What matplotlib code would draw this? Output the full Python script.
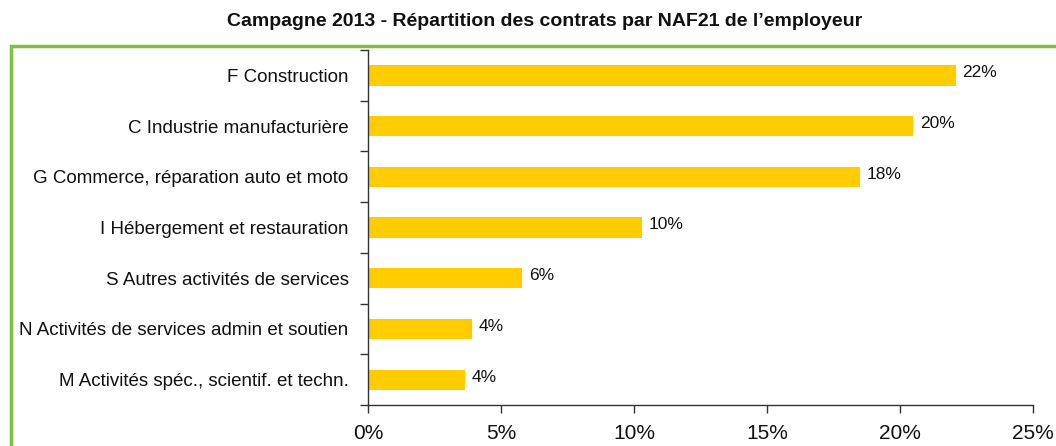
import matplotlib
matplotlib.use("Agg")
import matplotlib.pyplot as plt
from matplotlib.patches import Rectangle
import numpy as np

categories = [
    "F Construction",
    "C Industrie manufacturière",
    "G Commerce, réparation auto et moto",
    "I Hébergement et restauration",
    "S Autres activités de services",
    "N Activités de services admin et soutien",
    "M Activités spéc., scientif. et techn.",
]
values = [22.1, 20.5, 18.5, 10.3, 5.8, 3.9, 3.65]
value_labels = ["22%", "20%", "18%", "10%", "6%", "4%", "4%"]
xticks = [0, 5, 10, 15, 20, 25]
xtick_labels = ["0%", "5%", "10%", "15%", "20%", "25%"]
title = "Campagne 2013 - Répartition des contrats par NAF21 de l\u2019employeur"

W, H = 1056, 446
fig = plt.figure(figsize=(W / 100, H / 100), dpi=100)
plt.rcParams['font.family'] = ['Liberation Sans', 'DejaVu Sans']

# axes in pixel coords
left, right, top, bottom = 368, 1033, 50, 405
ax = fig.add_axes([left / W, 1 - bottom / H, (right - left) / W, (bottom - top) / H])

n = len(categories)
ypos = np.arange(n)
ax.barh(ypos, values, height=0.4, color="#FFCC00", zorder=2)
ax.set_ylim(n - 0.5, -0.5)
ax.set_xlim(0, 25)

for y, v, lab in zip(ypos, values, value_labels):
    ax.text(v + 0.25, y - 0.05, lab, va="center", ha="left", fontsize=12.5, color="#111111")

ax.set_yticks(ypos)
ax.set_yticklabels(categories, fontsize=13.5, color="#111111")
ax.set_yticks(np.arange(-0.5, n, 1), minor=True)
ax.tick_params(axis="y", which="major", length=0, pad=14)
ax.tick_params(axis="y", which="minor", length=6, width=1, color="#333333", direction="out")

ax.set_xticks(xticks)
ax.set_xticklabels(xtick_labels, fontsize=15, color="#111111")
ax.tick_params(axis="x", length=6, width=1, color="#333333", direction="out", pad=8)

for s in ["top", "right"]:
    ax.spines[s].set_visible(False)
for s in ["left", "bottom"]:
    ax.spines[s].set_color("#333333")
    ax.spines[s].set_linewidth(1)

fig.text(545 / W, 1 - 22 / H, title, ha="center", va="center", fontsize=14,
         fontweight="bold", color="#111111")

# green frame
fig.patches.append(Rectangle((11 / W, -0.1), 1.2, 1 - 46 / H + 0.1, transform=fig.transFigure,
                             fill=False, edgecolor="#7DC142", linewidth=2.5, figure=fig))

fig.savefig("out.png", dpi=100)
